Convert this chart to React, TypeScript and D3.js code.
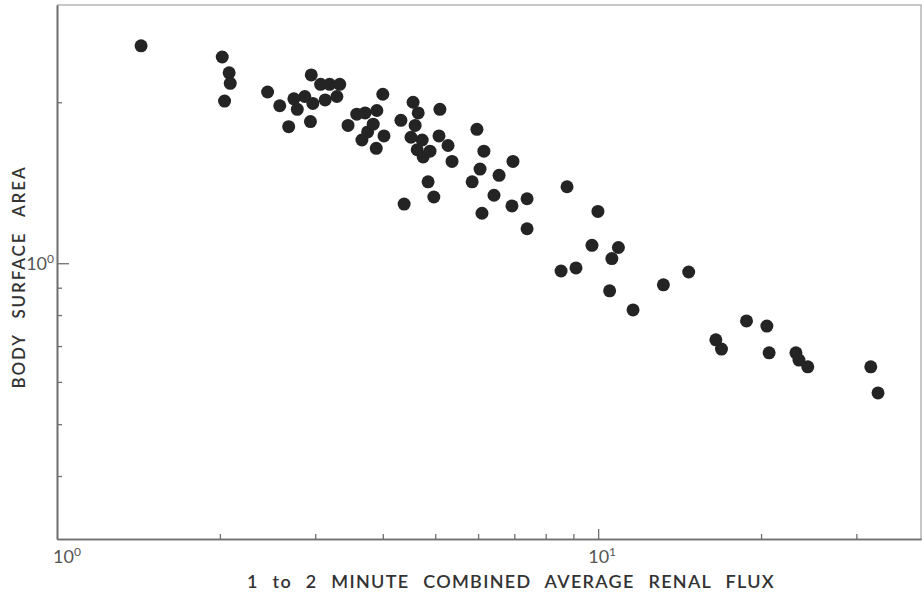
import * as d3 from "d3";
import { useRef, useEffect } from "react";

// renal flux (x) vs body surface area (y)
const flux = [
  1.43, 2.02, 2.08, 2.09, 2.04, 2.45, 2.58, 2.68, 2.74, 2.78, 2.87, 2.97, 2.94,
  2.95, 3.07, 3.19, 3.33, 3.13, 3.29, 3.45, 3.58, 3.71, 3.66, 3.75, 3.84, 3.9,
  4.0, 4.02, 3.89, 4.38, 4.32, 4.55, 4.65, 4.59, 4.51, 4.73, 4.63, 4.75, 4.89,
  4.85, 4.97, 5.1, 5.08, 5.28, 5.37, 5.97, 6.15, 6.96, 6.05, 6.56, 5.85, 6.42,
  7.39, 6.93, 6.1, 7.39, 8.76, 9.99, 9.74, 10.9, 10.6, 8.54, 9.1, 10.5, 11.6,
  13.2, 14.7, 16.5, 16.9, 18.8, 20.5, 20.7, 23.2, 23.5, 24.4, 31.9, 32.9,
];
const surfaceArea = [
  2.55, 2.43, 2.27, 2.17, 2.01, 2.09, 1.97, 1.8, 2.03, 1.94, 2.05, 1.99, 1.84,
  2.25, 2.16, 2.16, 2.16, 2.02, 2.05, 1.81, 1.9, 1.91, 1.7, 1.76, 1.82, 1.93,
  2.07, 1.73, 1.64, 1.29, 1.85, 2.0, 1.91, 1.81, 1.72, 1.7, 1.63, 1.58, 1.62,
  1.42, 1.33, 1.94, 1.73, 1.66, 1.55, 1.78, 1.62, 1.55, 1.5, 1.46, 1.42, 1.34,
  1.32, 1.28, 1.24, 1.16, 1.39, 1.25, 1.08, 1.07, 1.02, 0.967, 0.98, 0.888,
  0.818, 0.911, 0.963, 0.719, 0.691, 0.78, 0.763, 0.68, 0.68, 0.659, 0.64,
  0.64, 0.572,
];

const xMinorTicks = [2, 3, 4, 5, 6, 7, 8, 9, 20, 30];
const xMajorTicks = [10];
const yMinorTicks = [0.4, 0.5, 0.6, 0.7, 0.8, 0.9, 2];
const yMajorTicks = [1];
const xTickLabels = [
  { value: 1, exp: "0" },
  { value: 10, exp: "1" },
];
const yTickLabels = [{ value: 1, exp: "0" }];
const xTitle = "1 to 2 MINUTE COMBINED AVERAGE RENAL FLUX";
const yTitle = "BODY SURFACE AREA";

export default function App(): JSX.Element {
  const svgRef = useRef<SVGSVGElement>(null);

  useEffect(() => {
    if (!svgRef.current) return;
    const svg = d3.select(svgRef.current);
    svg.selectAll("*").remove();

    const width = 922;
    const height = 595;
    const left = 57;
    const right = 921;
    const top = 5;
    const bottom = 539;

    svg.attr("width", width).attr("height", height);

    const x = d3.scaleLog().domain([1, 39.5]).range([left, right]);
    const y = d3.scaleLog().domain([0.305, 3.04]).range([bottom, top]);

    const axisColor = "#6f6f6f";
    const textColor = "#333";
    const font = "Lato, 'Liberation Sans', sans-serif";

    // light frame on top and right (scan border)
    svg
      .append("path")
      .attr("d", `M${left},${top}H${right}V${bottom}`)
      .attr("fill", "none")
      .attr("stroke", "#b5b5b5")
      .attr("stroke-width", 1.5);

    const styleAxis = (g: any) => {
      g.select(".domain").attr("stroke", axisColor).attr("stroke-width", 1.6);
      g.selectAll(".tick line").attr("stroke", axisColor).attr("stroke-width", 1.3);
      g.selectAll(".tick text").remove();
    };

    // x axis: short minor ticks, longer decade tick, all pointing inward
    svg
      .append("g")
      .attr("transform", `translate(0,${bottom})`)
      .call(d3.axisBottom(x).tickValues(xMinorTicks).tickSizeInner(-5).tickSizeOuter(0))
      .call(styleAxis);
    svg
      .append("g")
      .attr("transform", `translate(0,${bottom})`)
      .call(d3.axisBottom(x).tickValues(xMajorTicks).tickSizeInner(-10).tickSizeOuter(0))
      .call(styleAxis);

    // y axis
    svg
      .append("g")
      .attr("transform", `translate(${left},0)`)
      .call(d3.axisLeft(y).tickValues(yMinorTicks).tickSizeInner(-5).tickSizeOuter(0))
      .call(styleAxis);
    svg
      .append("g")
      .attr("transform", `translate(${left},0)`)
      .call(d3.axisLeft(y).tickValues(yMajorTicks).tickSizeInner(-12).tickSizeOuter(0))
      .call(styleAxis);

    // power-of-ten tick labels
    const addPow = (sel: any, exp: string) => {
      sel.append("tspan").text("10");
      sel
        .append("tspan")
        .attr("dy", -7)
        .attr("font-size", 12)
        .text(exp);
    };
    xTickLabels.forEach((d, i) => {
      const t = svg
        .append("text")
        .attr("x", x(d.value) + (i === 0 ? 10 : 4))
        .attr("y", bottom + 24)
        .attr("text-anchor", "middle")
        .attr("font-family", font)
        .attr("font-size", 18)
        .attr("fill", "#555");
      addPow(t, d.exp);
    });
    yTickLabels.forEach((d) => {
      const t = svg
        .append("text")
        .attr("x", left - 3)
        .attr("y", y(d.value) + 7)
        .attr("text-anchor", "end")
        .attr("font-family", font)
        .attr("font-size", 18)
        .attr("fill", "#555");
      addPow(t, d.exp);
    });

    // the points
    svg
      .append("g")
      .selectAll("circle")
      .data(d3.zip(flux, surfaceArea))
      .join("circle")
      .attr("cx", (d) => x(d[0]))
      .attr("cy", (d) => y(d[1]))
      .attr("r", 6.5)
      .attr("fill", "#242424");

    // axis titles
    svg
      .append("text")
      .attr("x", 511)
      .attr("y", 588)
      .attr("text-anchor", "middle")
      .attr("font-family", font)
      .attr("font-size", 18)
      .attr("font-weight", 600)
      .attr("letter-spacing", 1.3)
      .attr("word-spacing", 8)
      .attr("fill", textColor)
      .text(xTitle);

    svg
      .append("text")
      .attr("transform", "translate(25,277) rotate(-90)")
      .attr("text-anchor", "middle")
      .attr("font-family", font)
      .attr("font-size", 17)
      .attr("font-weight", 600)
      .attr("letter-spacing", 1.9)
      .attr("word-spacing", 9)
      .attr("fill", textColor)
      .text(yTitle);

    return () => {
      d3.select(svgRef.current).selectAll("*").remove();
    };
  }, []);

  return (
    <svg
      ref={svgRef}
      style={{ position: "absolute", left: 0, top: 0, background: "#fff" }}
    />
  );
}
